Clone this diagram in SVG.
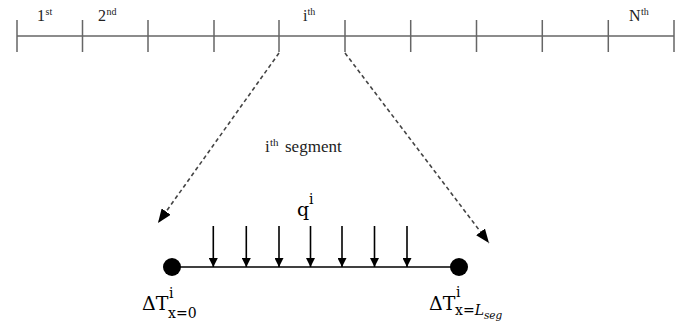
<svg xmlns="http://www.w3.org/2000/svg" width="685" height="327" viewBox="0 0 685 327">
<defs>
<style>
.axis{stroke:#666;stroke-width:1.5;fill:none}
.dash{stroke:#444;stroke-width:1.6;stroke-dasharray:4 3;fill:none}
.beam{stroke:#000;stroke-width:1.6;fill:none}
.tnr{fill:#222}
.math{fill:#000}
</style>
<marker id="big" markerUnits="userSpaceOnUse" markerWidth="15" markerHeight="11" refX="14" refY="5.5" orient="auto"><path d="M0,0 L14,5.5 L0,11 z" fill="#000"/></marker>
<marker id="small" markerUnits="userSpaceOnUse" markerWidth="10" markerHeight="9" refX="9" refY="4.5" orient="auto"><path d="M0,0 L9,4.5 L0,9 z" fill="#000"/></marker>
</defs>
<g id="axis" font-family="Liberation Serif, serif">
<line class="axis" x1="17" y1="36" x2="674" y2="36"/>
<path class="axis" d="M17,20V52 M82.5,20V52 M148,20V52 M214,20V52 M279,20V52 M345,20V52 M410.7,20V52 M476.5,20V52 M542.3,20V52 M608.3,20V52 M674,20V52"/>
<text class="tnr" x="37" y="21" font-size="16">1</text><text class="tnr" x="45.5" y="15" font-size="10">st</text>
<text class="tnr" x="98" y="21" font-size="16">2</text><text class="tnr" x="106.5" y="15" font-size="10">nd</text>
<text class="tnr" x="303" y="21" font-size="16">i</text><text class="tnr" x="307.5" y="15" font-size="10">th</text>
<text class="tnr" x="629" y="21" font-size="16">N</text><text class="tnr" x="641" y="15" font-size="10">th</text>
</g>
<g id="connectors">
<path class="dash" d="M279,53 L158,223" marker-end="url(#big)"/>
<path class="dash" d="M345,53 L489,243" marker-end="url(#big)"/>
</g>
<g id="label-segment" font-family="Liberation Serif, serif">
<text class="tnr" x="265" y="152" font-size="17">i</text><text class="tnr" x="270" y="146" font-size="11">th</text><text class="tnr" x="285" y="152" font-size="17">segment</text>
</g>
<g id="segment">
<line class="beam" x1="172" y1="267" x2="459" y2="267"/>
<circle cx="172" cy="267" r="9" fill="#000"/>
<circle cx="459" cy="267" r="9" fill="#000"/>
<g class="beam" stroke-width="1.3">
<line x1="213.3" y1="226" x2="213.3" y2="267" marker-end="url(#small)"/>
<line x1="246.3" y1="226" x2="246.3" y2="267" marker-end="url(#small)"/>
<line x1="279" y1="226" x2="279" y2="267" marker-end="url(#small)"/>
<line x1="310.5" y1="226" x2="310.5" y2="267" marker-end="url(#small)"/>
<line x1="342" y1="226" x2="342" y2="267" marker-end="url(#small)"/>
<line x1="374.5" y1="226" x2="374.5" y2="267" marker-end="url(#small)"/>
<line x1="407" y1="226" x2="407" y2="267" marker-end="url(#small)"/>
</g>
<g font-family="DejaVu Serif, serif">
<text class="math" x="297" y="216" font-size="19">q</text><text class="math" x="309" y="204" font-size="14">i</text>
</g>
</g>
<g id="label-left" font-family="DejaVu Serif, serif">
<text class="math" x="142" y="310" font-size="19">ΔT</text>
<text class="math" x="169" y="298" font-size="14">i</text>
<text class="math" x="168" y="318" font-size="14">x=0</text>
</g>
<g id="label-right" font-family="DejaVu Serif, serif">
<text class="math" x="429" y="310" font-size="19">ΔT</text>
<text class="math" x="456" y="297" font-size="14">i</text>
<text class="math" x="455" y="315" font-size="14">x=<tspan font-style="italic">L</tspan><tspan font-style="italic" font-size="10.5" dy="4">seg</tspan></text>
</g>
</svg>
